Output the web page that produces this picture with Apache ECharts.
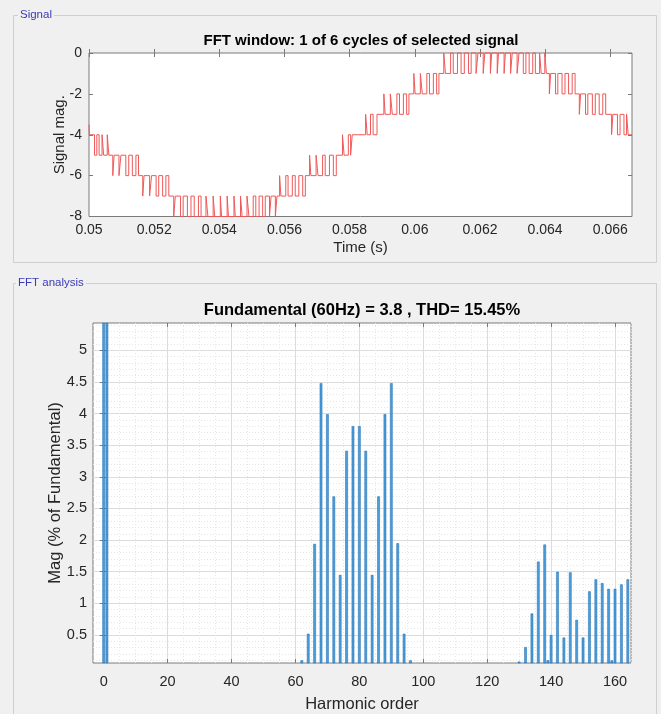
<!DOCTYPE html>
<html><head><meta charset="utf-8">
<script src="https://cdn.jsdelivr.net/npm/echarts@6/dist/echarts.min.js"></script>
<style>html,body{margin:0;padding:0;background:#f0f0f0;}#c{width:661px;height:714px;}</style>
</head><body><div id="c"></div>
<script>
// ---- Signal (step waveform): transition time in ms, level after the transition ----
const sigT = [
 50.000,50.010,
 50.17,50.24,50.31,50.40,50.45,50.56,50.61,
 50.73,50.77,50.92,50.98,51.13,51.22,51.33,51.44,51.52,
 51.65,51.69,51.86,51.92,52.06,52.14,52.26,52.36,52.45,
 52.60,52.65,52.81,52.89,53.02,53.13,53.23,53.36,53.44,53.59,53.65,53.81,53.86,54.03,
 54.07,54.24,54.28,54.45,54.49,54.65,54.70,54.85,54.91,55.04,55.12,55.22,55.33,55.41,
 55.54,55.59,55.72,55.77,
 55.85,55.89,56.04,56.11,56.24,56.33,56.44,56.56,56.64,
 56.77,56.81,56.97,57.03,57.17,57.25,57.38,57.50,57.59,
 57.78,57.83,57.96,58.03,58.08,
 58.49,58.54,58.64,58.72,58.84,
 59.05,59.09,59.25,59.31,59.45,59.53,59.65,59.75,59.82,
 59.97,60.01,60.17,60.23,60.37,60.45,60.57,60.67,60.74,
 60.89,60.94,61.10,61.18,61.31,61.42,61.52,61.65,61.73,61.88,61.94,62.10,62.15,62.32,
 62.36,62.53,62.57,62.74,62.78,62.94,62.99,63.14,63.20,63.33,63.41,63.51,63.62,63.70,
 63.83,63.88,63.99,64.04,
 64.13,64.17,64.32,64.39,64.52,64.61,64.72,64.83,64.92,
 65.05,65.09,65.24,65.31,65.45,65.54,65.66,65.77,65.86,
 66.04,66.08,66.22,66.30,66.42,66.50,66.55,
 66.667
];
const sigV = [
 -3.5,-4,
 -5,-4,-5,-4,-5,-4,-5,
 -6,-5,-6,-5,-6,-5,-6,-5,-6,
 -7,-6,-7,-6,-7,-6,-7,-6,-7,
 -8,-7,-8,-7,-8,-7,-8,-7,-8,-7,-8,-7,-8,-7,
 -8,-7,-8,-7,-8,-7,-8,-7,-8,-7,-8,-7,-8,-7,
 -8,-7,-8,-7,
 -6,-7,-6,-7,-6,-7,-6,-7,-6,
 -5,-6,-5,-6,-5,-6,-5,-6,-5,
 -4,-5,-4,-5,-4,
 -3,-4,-3,-4,-3,
 -2,-3,-2,-3,-2,-3,-2,-3,-2,
 -1,-2,-1,-2,-1,-2,-1,-2,-1,
 0,-1,0,-1,0,-1,0,-1,0,-1,0,-1,0,-1,
 0,-1,0,-1,0,-1,0,-1,0,-1,0,-1,0,-1,
 0,-1,0,-1,
 -2,-1,-2,-1,-2,-1,-2,-1,-2,
 -3,-2,-3,-2,-3,-2,-3,-2,-3,
 -4,-3,-4,-3,-4,-3,-4,
 -4
];
const timeTicks = [0.05,0.052,0.054,0.056,0.058,0.06,0.062,0.064,0.066];
const sigTicks = [-8,-6,-4,-2,0];

// ---- FFT (harmonic order, magnitude in % of fundamental) ----
const harmonics = [0,1,62,64,66,68,70,72,74,76,78,80,82,84,86,88,90,92,94,96,
  130,132,134,136,138,139,140,142,144,146,148,150,152,154,156,158,159,160,162,164];
const magPct = [105,100,0.1,0.52,1.94,4.48,3.99,2.69,1.45,3.41,3.80,3.80,3.41,1.45,2.69,3.99,4.48,1.95,0.52,0.1,
  0.08,0.31,0.84,1.66,1.93,0.1,0.5,1.5,0.46,1.49,0.74,0.46,1.19,1.38,1.32,1.23,0.1,1.23,1.30,1.38];
const harmTicks = [0,20,40,60,80,100,120,140,160];
const magTicks = [0.5,1,1.5,2,2.5,3,3.5,4,4.5,5];

const FONT = '"Liberation Sans", Arial, sans-serif';
const TXT = '#262626';
const BOX = '#7a7a7a';

const sigData = sigT.map((t, i) => [t / 1000, sigV[i]]);
const fftData = harmonics.map((h, i) => [h, magPct[i]]);

const minorX = [];
for (let v = 5; v <= 165; v += 5) if (v % 20 !== 0) minorX.push(v);
const minorY = [];
for (let k = 1; k <= 54; k++) if (k % 5 !== 0) minorY.push(k / 10);

const tickStyle = {show: true, inside: true, length: 4, lineStyle: {color: BOX}};
const labelTop = {color: TXT, fontSize: 14, fontFamily: FONT};
const labelFft = {color: TXT, fontSize: 14.5, fontFamily: FONT};
const nameTop = {color: TXT, fontSize: 15, fontFamily: FONT};
const nameFft = {color: TXT, fontSize: 16.5, fontFamily: FONT};
const hiddenLine = {show: false};

const chart = echarts.init(document.getElementById('c'), null, {renderer: 'canvas'});
chart.setOption({
  animation: false,
  backgroundColor: '#f0f0f0',
  textStyle: {fontFamily: FONT},
  grid: [
    {left: 89, top: 53, width: 543, height: 163.5, show: true, backgroundColor: '#ffffff', borderColor: BOX, borderWidth: 1},
    {left: 93, top: 323, width: 538, height: 340, show: true, backgroundColor: '#ffffff', borderColor: BOX, borderWidth: 1}
  ],
  xAxis: [
    {gridIndex: 0, type: 'value', position: 'bottom', min: 0.05, max: 0.0666667,
     name: 'Time (s)', nameLocation: 'middle', nameGap: 24, nameMoveOverlap: false, nameTextStyle: nameTop,
     axisLine: hiddenLine, splitLine: {show: false},
     axisTick: Object.assign({customValues: timeTicks}, tickStyle),
     axisLabel: Object.assign({customValues: timeTicks, margin: 7, formatter: v => String(parseFloat(v.toFixed(4)))}, labelTop)},
    {gridIndex: 0, type: 'value', position: 'top', min: 0.05, max: 0.0666667,
     axisLine: hiddenLine, splitLine: {show: false}, axisLabel: {show: false},
     axisTick: Object.assign({customValues: timeTicks}, tickStyle)},
    {gridIndex: 1, type: 'value', position: 'bottom', min: -3.35, max: 165,
     name: 'Harmonic order', nameLocation: 'middle', nameGap: 33, nameMoveOverlap: false, nameTextStyle: nameFft,
     axisLine: hiddenLine,
     splitLine: {show: true, lineStyle: {color: '#dcdcdc', width: 1}},
     axisTick: Object.assign({customValues: harmTicks}, tickStyle),
     axisLabel: Object.assign({customValues: harmTicks, margin: 11}, labelFft)},
    {gridIndex: 1, type: 'value', position: 'top', min: -3.35, max: 165,
     axisLine: hiddenLine, splitLine: {show: false}, axisLabel: {show: false},
     axisTick: Object.assign({customValues: harmTicks}, tickStyle)},
    {gridIndex: 1, type: 'value', position: 'bottom', min: -3.35, max: 165,
     axisLine: hiddenLine, axisLabel: {show: false},
     axisTick: {show: false, customValues: minorX},
     splitLine: {show: true, lineStyle: {color: '#e6e6e6', width: 1, type: [1, 2]}}}
  ],
  yAxis: [
    {gridIndex: 0, type: 'value', position: 'left', min: -8, max: 0, interval: 2,
     name: 'Signal mag.', nameLocation: 'middle', nameGap: 22, nameMoveOverlap: false, nameTextStyle: nameTop,
     axisLine: hiddenLine, splitLine: {show: false},
     axisTick: tickStyle, axisLabel: Object.assign({margin: 7}, labelTop)},
    {gridIndex: 0, type: 'value', position: 'right', min: -8, max: 0, interval: 2,
     axisLine: hiddenLine, splitLine: {show: false}, axisLabel: {show: false}, axisTick: tickStyle},
    {gridIndex: 1, type: 'value', position: 'left', min: 0.058, max: 5.43,
     name: 'Mag (% of Fundamental)', nameLocation: 'middle', nameGap: 29, nameMoveOverlap: false, nameTextStyle: nameFft,
     axisLine: hiddenLine,
     splitLine: {show: true, lineStyle: {color: '#dcdcdc', width: 1}},
     axisTick: Object.assign({customValues: magTicks}, tickStyle),
     axisLabel: Object.assign({customValues: magTicks, margin: 6, formatter: v => String(parseFloat(v.toFixed(2)))}, labelFft)},
    {gridIndex: 1, type: 'value', position: 'right', min: 0.058, max: 5.43,
     axisLine: hiddenLine, splitLine: {show: false}, axisLabel: {show: false},
     axisTick: Object.assign({customValues: magTicks}, tickStyle)},
    {gridIndex: 1, type: 'value', position: 'left', min: 0.058, max: 5.43,
     axisLine: hiddenLine, axisLabel: {show: false},
     axisTick: {show: false, customValues: minorY},
     splitLine: {show: true, lineStyle: {color: '#e6e6e6', width: 1, type: [1, 2]}}}
  ],
  series: [
    {type: 'line', xAxisIndex: 0, yAxisIndex: 0, data: sigData, step: 'end',
     showSymbol: false, symbol: 'none', clip: false,
     lineStyle: {color: '#ef5858', width: 1}},
    {type: 'bar', xAxisIndex: 2, yAxisIndex: 2, data: fftData, barWidth: 2.6, clip: true,
     itemStyle: {color: '#4a9edc', borderColor: '#1f6aae', borderWidth: 0.5}}
  ],
  graphic: [
    {type: 'rect', z: -10, shape: {x: 13.5, y: 15.5, width: 643, height: 247}, style: {fill: 'none', stroke: '#cfcfcf', lineWidth: 1}},
    {type: 'rect', z: -10, shape: {x: 13.5, y: 283.5, width: 643, height: 440}, style: {fill: 'none', stroke: '#cfcfcf', lineWidth: 1}},
    {type: 'text', x: 18, y: 15, style: {text: 'Signal', font: '11.5px ' + FONT, fill: '#3a3ab8', backgroundColor: '#f0f0f0', padding: [0, 2], verticalAlign: 'middle'}},
    {type: 'text', x: 16, y: 283, style: {text: 'FFT analysis', font: '11.5px ' + FONT, fill: '#3a3ab8', backgroundColor: '#f0f0f0', padding: [0, 2], verticalAlign: 'middle'}},
    {type: 'text', x: 361, y: 41, style: {text: 'FFT window: 1 of 6 cycles of selected signal', font: 'bold 15px ' + FONT, fill: '#000', align: 'center', verticalAlign: 'middle'}},
    {type: 'text', x: 362, y: 310, style: {text: 'Fundamental (60Hz) = 3.8 , THD= 15.45%', font: 'bold 16.5px ' + FONT, fill: '#000', align: 'center', verticalAlign: 'middle'}}
  ]
});
</script></body></html>
